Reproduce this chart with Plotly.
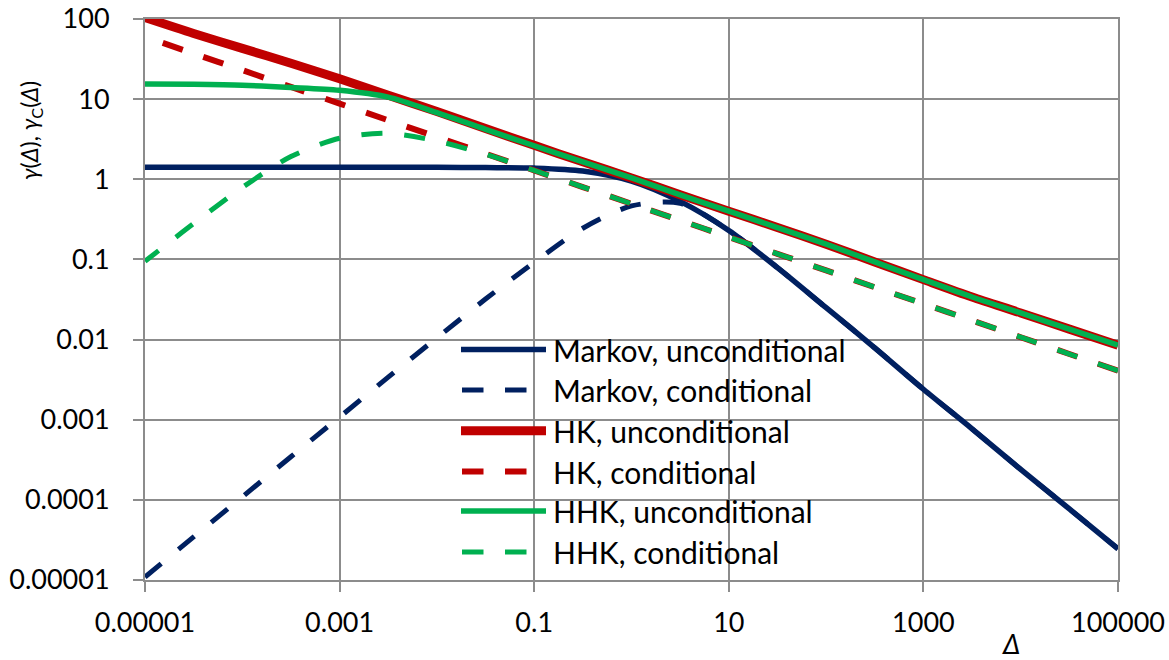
import plotly.graph_objects as go

# Time scale Δ (read at half-decade steps)
delta = [1e-5, 3.16e-5, 1e-4, 3.16e-4, 1e-3, 3.16e-3, 1e-2, 3.16e-2, 0.1, 0.316,
         1, 3.16, 10, 31.6, 100, 316, 1000, 3162, 1e4, 31623, 1e5]

# Climacogram values γ(Δ) and conditional climacogram γC(Δ)
markov_unc = [1.41, 1.41, 1.41, 1.41, 1.41, 1.41, 1.41, 1.40, 1.38, 1.27,
              0.95, 0.53, 0.23, 0.079, 0.025, 0.0079, 0.0024, 0.00077, 0.00024, 0.000077, 0.0000245]
markov_con = [1.09e-5, 3.45e-5, 1.09e-4, 3.45e-4, 1.08e-3, 3.4e-3, 0.0105, 0.032, 0.092, 0.245,
              0.465, 0.50, 0.23, 0.079, 0.025, 0.0079, 0.0024, 0.00077, 0.00024, 0.000077, 0.0000245]
hk_unc = [104, 66, 43, 28, 18, 11.2, 7.0, 4.3, 2.65, 1.65,
          1.04, 0.64, 0.40, 0.25, 0.155, 0.093, 0.056, 0.034, 0.0215, 0.0135, 0.0085]
hk_con = [60, 37, 23, 14.2, 8.8, 5.45, 3.37, 2.09, 1.29, 0.80,
          0.495, 0.307, 0.19, 0.1175, 0.073, 0.045, 0.028, 0.0173, 0.0107, 0.0066, 0.0041]
hhk_unc = [15.5, 15.3, 14.9, 14.0, 12.9, 10.6, 6.8, 4.2, 2.62, 1.65,
           1.04, 0.64, 0.40, 0.25, 0.155, 0.093, 0.056, 0.034, 0.0215, 0.0135, 0.0085]
hhk_con = [0.095, 0.28, 0.79, 1.92, 3.25, 3.75, 3.0, 2.05, 1.29, 0.80,
           0.495, 0.307, 0.19, 0.1175, 0.073, 0.045, 0.028, 0.0173, 0.0107, 0.0066, 0.0041]

x_tickvals = [1e-5, 1e-3, 0.1, 10, 1000, 1e5]
x_ticktext = ["0.00001", "0.001", "0.1", "10", "1000", "100000"]
y_tickvals = [1e-5, 1e-4, 1e-3, 1e-2, 0.1, 1, 10, 100]
y_ticktext = ["0.00001", "0.0001", "0.001", "0.01", "0.1", "1", "10", "100"]

NAVY, RED, GREEN = "#002060", "#C00000", "#00B050"
GRID = "#8c8c8c"
FONT = "Lato"
DASH = "21px,22px"

# name, values, colour, width, dash, reverse path (keeps dash phase shared where curves coincide)
series = [
    ("Markov, unconditional", markov_unc, NAVY, 5.5, "solid", False),
    ("Markov, conditional", markov_con, NAVY, 5, DASH, False),
    ("HK, unconditional", hk_unc, RED, 9, "solid", False),
    ("HK, conditional", hk_con, RED, 6, DASH, True),
    ("HHK, unconditional", hhk_unc, GREEN, 5.5, "solid", False),
    ("HHK, conditional", hhk_con, GREEN, 5, DASH, True),
]

fig = go.Figure()
for name, vals, col, w, dash, rev in series:
    xs, ys = (delta[::-1], vals[::-1]) if rev else (delta, vals)
    fig.add_trace(go.Scatter(x=xs, y=ys, mode="lines", name=name, showlegend=False,
                             line=dict(color=col, width=w, dash=dash, shape="spline", smoothing=0.8)))

# plot-area geometry (px) used for the hand-drawn legend and titles
L, R, T, B = 145, 1118, 19, 580
W, H = 1169, 660


def px(xp):
    return (xp - L) / (R - L)


def py(yp):
    return (B - yp) / (B - T)


shapes, annotations = [], []
rows = [349.5, 390, 430.7, 471.5, 511, 552]
for (name, vals, col, w, dash, rev), yrow in zip(series, rows):
    solid = dash == "solid"
    x0, x1 = (461, 546) if solid else (462, 527)
    shapes.append(dict(type="line", xref="paper", yref="paper", x0=px(x0), x1=px(x1),
                       y0=py(yrow), y1=py(yrow),
                       line=dict(color=col, width=w, dash="solid" if solid else "21.5px,21.5px")))
    annotations.append(dict(text=name, xref="paper", yref="paper", x=px(551), y=py(yrow),
                            xanchor="left", yanchor="middle", showarrow=False,
                            font=dict(family=FONT, size=30, color="black")))

annotations.append(dict(text="<i>γ</i>(<i>Δ</i>), <i>γ</i><sub>C</sub>(<i>Δ</i>)",
                        xref="paper", yref="paper", x=px(31), y=py(131), textangle=-90,
                        xanchor="center", yanchor="middle", showarrow=False,
                        font=dict(family=FONT, size=23, color="black")))
annotations.append(dict(text="<i>Δ</i>", xref="paper", yref="paper", x=px(1011), y=py(625),
                        xanchor="center", yanchor="top", showarrow=False,
                        font=dict(family=FONT, size=27, color="black")))

axis_common = dict(type="log", showgrid=True, gridcolor=GRID, gridwidth=2,
                   showline=True, linecolor=GRID, linewidth=2, mirror=True,
                   ticks="outside", ticklen=10, tickwidth=2, tickcolor=GRID,
                   zeroline=False, automargin=False,
                   tickfont=dict(family=FONT, size=27, color="black"))

fig.update_layout(
    width=W, height=H, autosize=False,
    margin=dict(l=L, r=W - R, t=T, b=H - B),
    paper_bgcolor="white", plot_bgcolor="white",
    xaxis=dict(range=[-5, 5], tickvals=x_tickvals, ticktext=x_ticktext,
               ticklabelstandoff=8, **axis_common),
    yaxis=dict(range=[-5, 2], tickvals=y_tickvals, ticktext=y_ticktext,
               ticklabelstandoff=18, **axis_common),
    shapes=shapes, annotations=annotations,
)

fig.write_html("out.html")
